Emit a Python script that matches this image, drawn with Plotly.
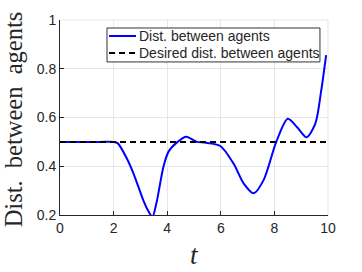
import plotly.graph_objects as go

t_vals = [0.0, 0.5, 1.0, 1.5, 2.0, 2.15, 2.49, 2.74, 3.11, 3.3, 3.45, 3.6, 3.86, 4.05, 4.39, 4.71, 5.11, 5.4, 5.98, 6.48,
          6.85, 7.23, 7.6, 8.07, 8.5, 8.85, 9.2, 9.53, 9.75, 9.93]
dist_vals = [0.5, 0.5, 0.5, 0.5, 0.5, 0.495, 0.433, 0.371, 0.26, 0.215, 0.193, 0.25, 0.398, 0.46, 0.50, 0.521, 0.50, 0.497, 0.483, 0.41,
             0.33, 0.289, 0.344, 0.50, 0.595, 0.56, 0.519, 0.576, 0.713, 0.856]
desired_t = [0, 10]
desired_vals = [0.5, 0.5]

x_ticks = [0, 2, 4, 6, 8, 10]
y_ticks = [0.2, 0.4, 0.6, 0.8, 1.0]
y_tick_labels = ["0.2", "0.4", "0.6", "0.8", "1"]
legend_labels = ["Dist. between agents", "Desired dist. between agents"]

BLUE = "#0000ff"
DASH = "6px,4px"
TXT = "#262626"

fig = go.Figure()
fig.add_trace(go.Scatter(x=t_vals, y=dist_vals, mode="lines", name=legend_labels[0],
                         line=dict(color=BLUE, width=2, shape="spline", smoothing=0.8)))
fig.add_trace(go.Scatter(x=desired_t, y=desired_vals, mode="lines", name=legend_labels[1],
                         line=dict(color="black", width=2, dash=DASH)))

axis_common = dict(showgrid=True, gridcolor="#e6e6e6", gridwidth=1, showline=True, linecolor=TXT,
                   linewidth=1, ticks="inside", ticklen=4, tickcolor=TXT, zeroline=False,
                   tickfont=dict(family="Liberation Sans, Arial", size=14, color=TXT), mirror=False,
                   automargin=False)

fig.update_xaxes(range=[0, 10], tickvals=x_ticks, **axis_common)
fig.update_yaxes(range=[0.2, 1.0], tickvals=y_ticks, ticktext=y_tick_labels, **axis_common)

fig.update_layout(
    width=362, height=272,
    margin=dict(l=60, r=34, t=20, b=57),
    paper_bgcolor="white", plot_bgcolor="white",
    showlegend=False,
)

# light frame on top/right like MATLAB grid box
fig.add_shape(type="line", xref="paper", yref="paper", x0=0, x1=1, y0=1, y1=1, line=dict(color="#e6e6e6", width=1))
fig.add_shape(type="line", xref="paper", yref="paper", x0=1, x1=1, y0=0, y1=1, line=dict(color="#e6e6e6", width=1))

# axis titles (LaTeX-like serif)
fig.add_annotation(text="Dist.&nbsp; between&nbsp; agents", xref="paper", yref="paper", x=-0.172, y=0.49,
                   xanchor="center", yanchor="middle", textangle=-90, showarrow=False,
                   font=dict(family="Liberation Serif", size=24.5, color=TXT))
fig.add_annotation(text="<i>t</i>", xref="paper", yref="paper", x=0.5, y=-0.205,
                   xanchor="center", yanchor="middle", showarrow=False,
                   font=dict(family="Liberation Serif", size=27, color=TXT))

# legend box drawn MATLAB-style
fig.add_shape(type="rect", xref="paper", yref="paper", x0=0.1754, x1=0.970, y0=0.785, y1=0.959,
              line=dict(color="#333333", width=1), fillcolor="white", layer="above")
row_y = [0.918, 0.831]
styles = [dict(color=BLUE, width=2), dict(color="black", width=2, dash=DASH)]
for lab, yy, st in zip(legend_labels, row_y, styles):
    fig.add_shape(type="line", xref="paper", yref="paper", x0=0.183, x1=0.2836, y0=yy, y1=yy,
                  line=st, layer="above")
    fig.add_annotation(text=lab, xref="paper", yref="paper", x=0.289, y=yy, xanchor="left", yanchor="middle",
                       showarrow=False, font=dict(family="Liberation Sans, Arial", size=14, color=TXT))

fig.write_html("out.html", config={"displayModeBar": False},
               post_script="document.body.style.margin='0px';")
